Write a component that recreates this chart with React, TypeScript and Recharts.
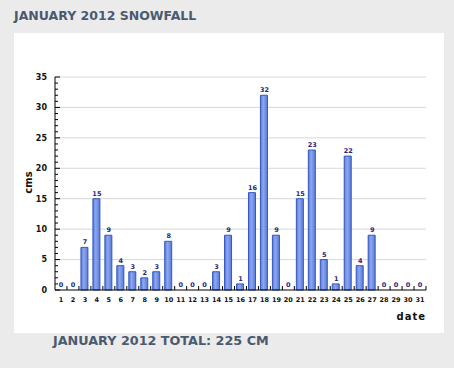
import React from 'react';
import { ComposedChart, Bar, Line, XAxis, YAxis, CartesianGrid, LabelList, Label } from 'recharts';

const days = ['1','2','3','4','5','6','7','8','9','10','11','12','13','14','15','16','17','18','19','20','21','22','23','24','25','26','27','28','29','30','31'];
const snowfall = [0,0,7,15,9,4,3,2,3,8,0,0,0,3,9,1,16,32,9,0,15,23,5,1,22,4,9,0,0,0,0];
const yTicks = [0,1,2,3,4,5,6,7,8,9,10,11,12,13,14,15,16,17,18,19,20,21,22,23,24,25,26,27,28,29,30,31,32,33,34,35];
const gridValues = [5,10,15,20,25,30,35];
const titleText = 'JANUARY 2012 SNOWFALL';
const footerText = 'JANUARY 2012 TOTAL: 225 CM';

const data = days.map((d, i) => ({ day: d, cm: snowfall[i] }));

const W = 454;
const H = 368;
const M = { top: 77, right: 28, left: 25, bottom: 48 };
const Y_W = 30;
const X_H = 30;
const PLOT_W = W - M.left - Y_W - M.right;
const FONT = '"DejaVu Sans", Verdana, sans-serif';

const YTick = (props: any) => {
  const { x, y, payload } = props;
  const ax = x + 8;
  const major = payload.value % 5 === 0;
  return (
    <g>
      <line x1={ax} x2={ax + (major ? 5 : 3)} y1={y} y2={y} stroke="#000" strokeWidth={1} />
      {major && (
        <text x={x} y={y} dy="0.36em" textAnchor="end" fontSize={8} fontWeight="bold" fill="#111" fontFamily={FONT}>
          {payload.value}
        </text>
      )}
    </g>
  );
};

const XTick = (props: any) => {
  const { x, y, payload } = props;
  const ay = y - 7;
  const band = PLOT_W / days.length;
  return (
    <g>
      <line x1={x + band / 2} x2={x + band / 2} y1={ay} y2={ay - 4} stroke="#000" strokeWidth={1} />
      <text x={x} y={y} dy="0.72em" textAnchor="middle" fontSize={6.5} fontWeight="bold" fill="#111" fontFamily={FONT}>
        {payload.value}
      </text>
    </g>
  );
};

export default function App() {
  return (
    <div style={{ position: 'absolute', left: 0, top: 0, width: W, height: H, background: '#ebebeb', overflow: 'hidden' }}>
      <div style={{ position: 'absolute', left: 14, top: 10.3, fontFamily: FONT, fontWeight: 'bold', fontSize: 12.5, lineHeight: '12.5px', color: '#4b5a6f', whiteSpace: 'nowrap' }}>
        {titleText}
      </div>
      <div style={{ position: 'absolute', left: 14, top: 33, width: 430, height: 300, background: '#ffffff' }} />
      <div style={{ position: 'absolute', left: 53, top: 334.8, fontFamily: FONT, fontWeight: 'bold', fontSize: 12.75, lineHeight: '12.75px', color: '#4b5a6f', whiteSpace: 'nowrap' }}>
        {footerText}
      </div>
      <div style={{ position: 'absolute', left: 0, top: 0 }}>
        <ComposedChart width={W} height={H} data={data} margin={M}>
          <defs>
            <linearGradient id="barGrad" x1="0" y1="0" x2="1" y2="0">
              <stop offset="0" stopColor="#5779d9" />
              <stop offset="0.4" stopColor="#8ea8ee" />
              <stop offset="1" stopColor="#5779d9" />
            </linearGradient>
          </defs>
          <CartesianGrid vertical={false} horizontalValues={gridValues} stroke="#d9d9d9" />
          <XAxis
            dataKey="day"
            height={X_H}
            interval={0}
            tickLine={false}
            tickSize={0}
            tickMargin={7}
            axisLine={{ stroke: '#000' }}
            tick={<XTick />}
          >
            <Label
              content={(p: any) => {
                const vb = p.viewBox;
                return (
                  <text x={vb.x + vb.width} y={vb.y + 30} textAnchor="end" fontSize={10} fontWeight="bold" letterSpacing={1} fill="#111" fontFamily={FONT}>
                    date
                  </text>
                );
              }}
            />
          </XAxis>
          <YAxis
            width={Y_W}
            domain={[0, 35]}
            ticks={yTicks}
            interval={0}
            tickLine={false}
            tickSize={0}
            tickMargin={8}
            axisLine={{ stroke: '#000' }}
            tick={<YTick />}
          >
            <Label
              content={(p: any) => {
                const vb = p.viewBox;
                const cx = 28;
                const cy = vb.y + vb.height / 2 - 1;
                return (
                  <text x={cx} y={cy} dy="0.36em" textAnchor="middle" transform={`rotate(-90 ${cx} ${cy})`} fontSize={10} fontWeight="bold" fill="#111" fontFamily={FONT}>
                    cms
                  </text>
                );
              }}
            />
          </YAxis>
          <Bar dataKey="cm" barSize={7} fill="url(#barGrad)" stroke="#3557c0" strokeWidth={1} isAnimationActive={false} />
          <Line dataKey="cm" stroke="none" dot={false} activeDot={false} isAnimationActive={false}>
            <LabelList dataKey="cm" position="top" offset={3} fill="#1f2580" fontSize={6.5} fontWeight="bold" fontFamily={FONT} />
          </Line>
        </ComposedChart>
      </div>
    </div>
  );
}
